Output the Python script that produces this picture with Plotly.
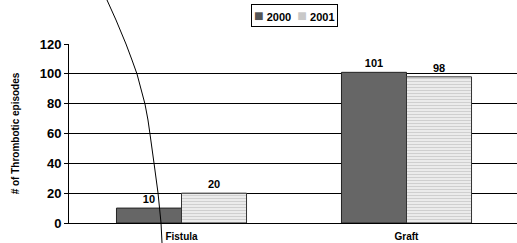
import plotly.graph_objects as go

categories = ["Fistula", "Graft"]
series_names = ["2000", "2001"]
values_2000 = [10, 101]
values_2001 = [20, 98]
y_ticks = [0, 20, 40, 60, 80, 100, 120]
series_colors = ["#555555", "#c8c8c8"]

W, H = 517, 243
L, R, T, B = 69, 517, 44, 223  # plot area in pixels

fig = go.Figure()
fig.add_trace(go.Bar(
    x=categories, y=values_2000, name=series_names[0],
    marker=dict(color="#666666", line=dict(color="#222222", width=1)),
    text=[str(v) for v in values_2000], textposition="outside",
    textfont=dict(family="Liberation Sans", size=11, color="#000000", weight="bold"),
    cliponaxis=False, showlegend=False,
))
fig.add_trace(go.Bar(
    x=categories, y=values_2001, name=series_names[1],
    marker=dict(color="#f2f2f2", line=dict(color="#333333", width=1),
                pattern=dict(shape="-", fgcolor="#b0b0b0", bgcolor="#eeeeee",
                             size=3, solidity=0.4)),
    text=[str(v) for v in values_2001], textposition="outside",
    textfont=dict(family="Liberation Sans", size=11, color="#000000", weight="bold"),
    cliponaxis=False, showlegend=False,
))

# decorative curve (pixel points converted to paper coords)
curve_px = [(107, 0), (116, 20), (126, 44), (132, 60), (137, 74), (141, 89),
            (145, 104), (148, 120), (150, 134), (154, 163), (158, 193),
            (161, 223), (162, 243)]
def to_paper(p):
    return ((p[0] - L) / (R - L), (B - p[1]) / (B - T))
pts = [to_paper(p) for p in curve_px]
path = "M " + " L ".join(f"{x:.4f},{y:.4f}" for x, y in pts)
fig.add_shape(type="path", path=path, xref="paper", yref="paper",
              line=dict(color="#000000", width=1))

# compact legend built as a single boxed annotation
legend_text = "&nbsp;&nbsp;".join(
    f"<span style='color:{c};font-size:16px'>■</span>&nbsp;<b>{n}</b>"
    for c, n in zip(series_colors, series_names)
)
lx, ly = to_paper((294, 16))
fig.add_annotation(text=legend_text, xref="paper", yref="paper", x=lx, y=ly,
                   xanchor="center", yanchor="middle", showarrow=False,
                   font=dict(family="Liberation Sans", size=11, color="#000000"),
                   bordercolor="#000000", borderwidth=1, borderpad=2, bgcolor="white")

fig.update_layout(
    width=W, height=H,
    margin=dict(l=L, r=W - R, t=T, b=H - B, autoexpand=False),
    paper_bgcolor="white", plot_bgcolor="white",
    barmode="group", bargap=0.422, bargroupgap=0,
    font=dict(family="Liberation Sans", color="#000000"),
    showlegend=False,
    xaxis=dict(range=[-0.5, 1.5 - 2 / 225], showline=True, linecolor="#000000",
               linewidth=1, ticks="", showgrid=False, automargin=False,
               ticklabelstandoff=4,
               tickfont=dict(family="Liberation Sans", size=10, color="#000000", weight="bold"),
               fixedrange=True),
    yaxis=dict(range=[0, 120], tickvals=y_ticks, showline=True, linecolor="#000000",
               linewidth=1, ticks="outside", ticklen=4, tickcolor="#000000",
               showgrid=True, gridcolor="#000000", gridwidth=1, automargin=False,
               tickfont=dict(family="Liberation Sans", size=13, color="#000000", weight="bold"),
               title=dict(text="# of Thrombotic episodes", standoff=18,
                          font=dict(family="Liberation Sans", size=10, color="#000000",
                                    weight="bold")),
               fixedrange=True),
)

fig.write_html("out.html", config={"displayModeBar": False},
               post_script="document.body.style.margin='0';document.body.style.overflow='hidden';")
